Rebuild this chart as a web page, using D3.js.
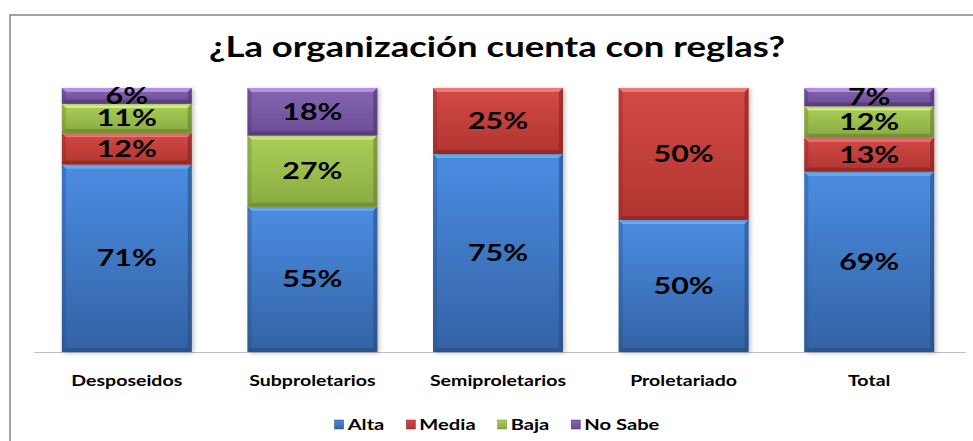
<!DOCTYPE html>
<html><head><meta charset="utf-8">
<script src="https://cdn.jsdelivr.net/npm/d3@7"></script>
<style>
html,body{margin:0;padding:0;background:#fff;}
text{font-family:Lato,"Open Sans",sans-serif;font-weight:bold;fill:#000;}
</style></head>
<body><svg id="c" width="973" height="441"></svg>
<script>
const title = "¿La organización cuenta con reglas?";
const categories = ["Desposeidos","Subproletarios","Semiproletarios","Proletariado","Total"];
const seriesNames = ["Alta","Media","Baja","No Sabe"];
const alta   = [71, 55, 75, 50, 69];
const media  = [12,  0, 25, 50, 13];
const baja   = [11, 27,  0,  0, 12];
const noSabe = [ 6, 18,  0,  0,  7];

const seriesValues = [alta, media, baja, noSabe];
const colors = [
  {top:"#4a8ce2", bot:"#3362a4", hi:"#74b4f6", lo:"#264c80"},
  {top:"#d34a46", bot:"#b23430", hi:"#f07a78", lo:"#862220"},
  {top:"#abcf58", bot:"#8aaa42", hi:"#d8f48a", lo:"#66802c"},
  {top:"#8565b2", bot:"#6a4c94", hi:"#b894e6", lo:"#4c346e"}
];

const svg = d3.select("#c");
const defs = svg.append("defs");
colors.forEach((c,i)=>{
  const g = defs.append("linearGradient").attr("id","g"+i).attr("x1",0).attr("y1",0).attr("x2",0).attr("y2",1);
  g.append("stop").attr("offset","0%").attr("stop-color",c.top);
  g.append("stop").attr("offset","100%").attr("stop-color",c.bot);
});
const f = defs.append("filter").attr("id","sh").attr("x","-10%").attr("y","-10%").attr("width","130%").attr("height","120%");
f.append("feDropShadow").attr("dx",2).attr("dy",1).attr("stdDeviation",2).attr("flood-color","#000").attr("flood-opacity",0.25);

// frame
svg.append("rect").attr("x",10).attr("y",15).attr("width",1000).attr("height",500)
  .attr("fill","none").attr("stroke","#8c8c8c").attr("stroke-width",1.6);

const x = d3.scaleBand().domain(categories).range([34,962]).paddingInner(0.3).paddingOuter(0.15);
const y = d3.scaleLinear().domain([0,1]).range([352,88]);

// baseline
svg.append("line").attr("x1",34).attr("x2",966).attr("y1",352.5).attr("y2",352.5)
  .attr("stroke","#bfbfbf").attr("stroke-width",1.2);

const table = categories.map((c,j)=>{
  const o = {cat:c};
  seriesNames.forEach((s,i)=>o[s]=seriesValues[i][j]);
  return o;
});
const stacked = d3.stack().keys(seriesNames).offset(d3.stackOffsetExpand)(table);

const SX = 1.26;
const b = 4;
stacked.forEach((layer,i)=>{
  const c = colors[i];
  const g = svg.append("g");
  layer.forEach((d,j)=>{
    const v = seriesValues[i][j];
    if(!v) return;
    const x0 = x(d.data.cat), x1 = x0 + x.bandwidth();
    const y0 = y(d[1]), y1 = y(d[0]);
    const sg = g.append("g");
    sg.append("rect").attr("x",x0).attr("y",y0).attr("width",x1-x0).attr("height",y1-y0)
      .attr("fill","url(#g"+i+")").attr("filter","url(#sh)");
    const poly = (pts,fill,op)=>sg.append("polygon").attr("points",pts.map(p=>p.join(",")).join(" ")).attr("fill",fill).attr("opacity",op);
    poly([[x0,y0],[x1,y0],[x1-b,y0+b],[x0+b,y0+b]], c.hi, 0.95);
    poly([[x0,y0],[x0+b,y0+b],[x0+b,y1-b],[x0,y1]], c.lo, 0.35);
    poly([[x1,y0],[x1-b,y0+b],[x1-b,y1-b],[x1,y1]], c.lo, 0.6);
    poly([[x0,y1],[x0+b,y1-b],[x1-b,y1-b],[x1,y1]], c.lo, 0.6);
  });
});

// data labels
const LSX = 1.38;
stacked.forEach((layer,i)=>{
  layer.forEach((d,j)=>{
    const v = seriesValues[i][j];
    if(!v) return;
    const cx = x(d.data.cat) + x.bandwidth()/2;
    const cy = (y(d[0]) + y(d[1]))/2;
    svg.append("text").attr("transform",`translate(${cx},${cy}) scale(${LSX},1)`)
      .attr("text-anchor","middle").attr("dy","0.36em")
      .style("font-size","22px").text(v+"%");
  });
});

// title
svg.append("text").attr("transform",`translate(497,57) scale(${SX},1)`)
  .attr("text-anchor","middle").style("font-size","29px").text(title);

// category axis labels
categories.forEach(c=>{
  svg.append("text").attr("transform",`translate(${x(c)+x.bandwidth()/2},386) scale(${SX},1)`)
    .attr("text-anchor","middle").style("font-size","15.5px").text(c);
});

// legend
const lg = svg.append("g");
let cur = 0;
seriesNames.forEach((s,i)=>{
  const it = lg.append("g");
  it.append("rect").attr("x",0).attr("y",-10).attr("width",9).attr("height",9)
    .attr("fill","url(#g"+i+")").attr("stroke",colors[i].lo).attr("stroke-width",0.5);
  const t = it.append("text").attr("transform",`translate(13,0) scale(${SX},1)`).style("font-size","16px").text(s);
  const w = 13 + t.node().getComputedTextLength()*SX;
  it.attr("transform",`translate(${cur},0)`);
  cur += w + 22;
});
const total = cur - 22;
lg.attr("transform",`translate(${497 - total/2},430)`);
</script></body></html>
